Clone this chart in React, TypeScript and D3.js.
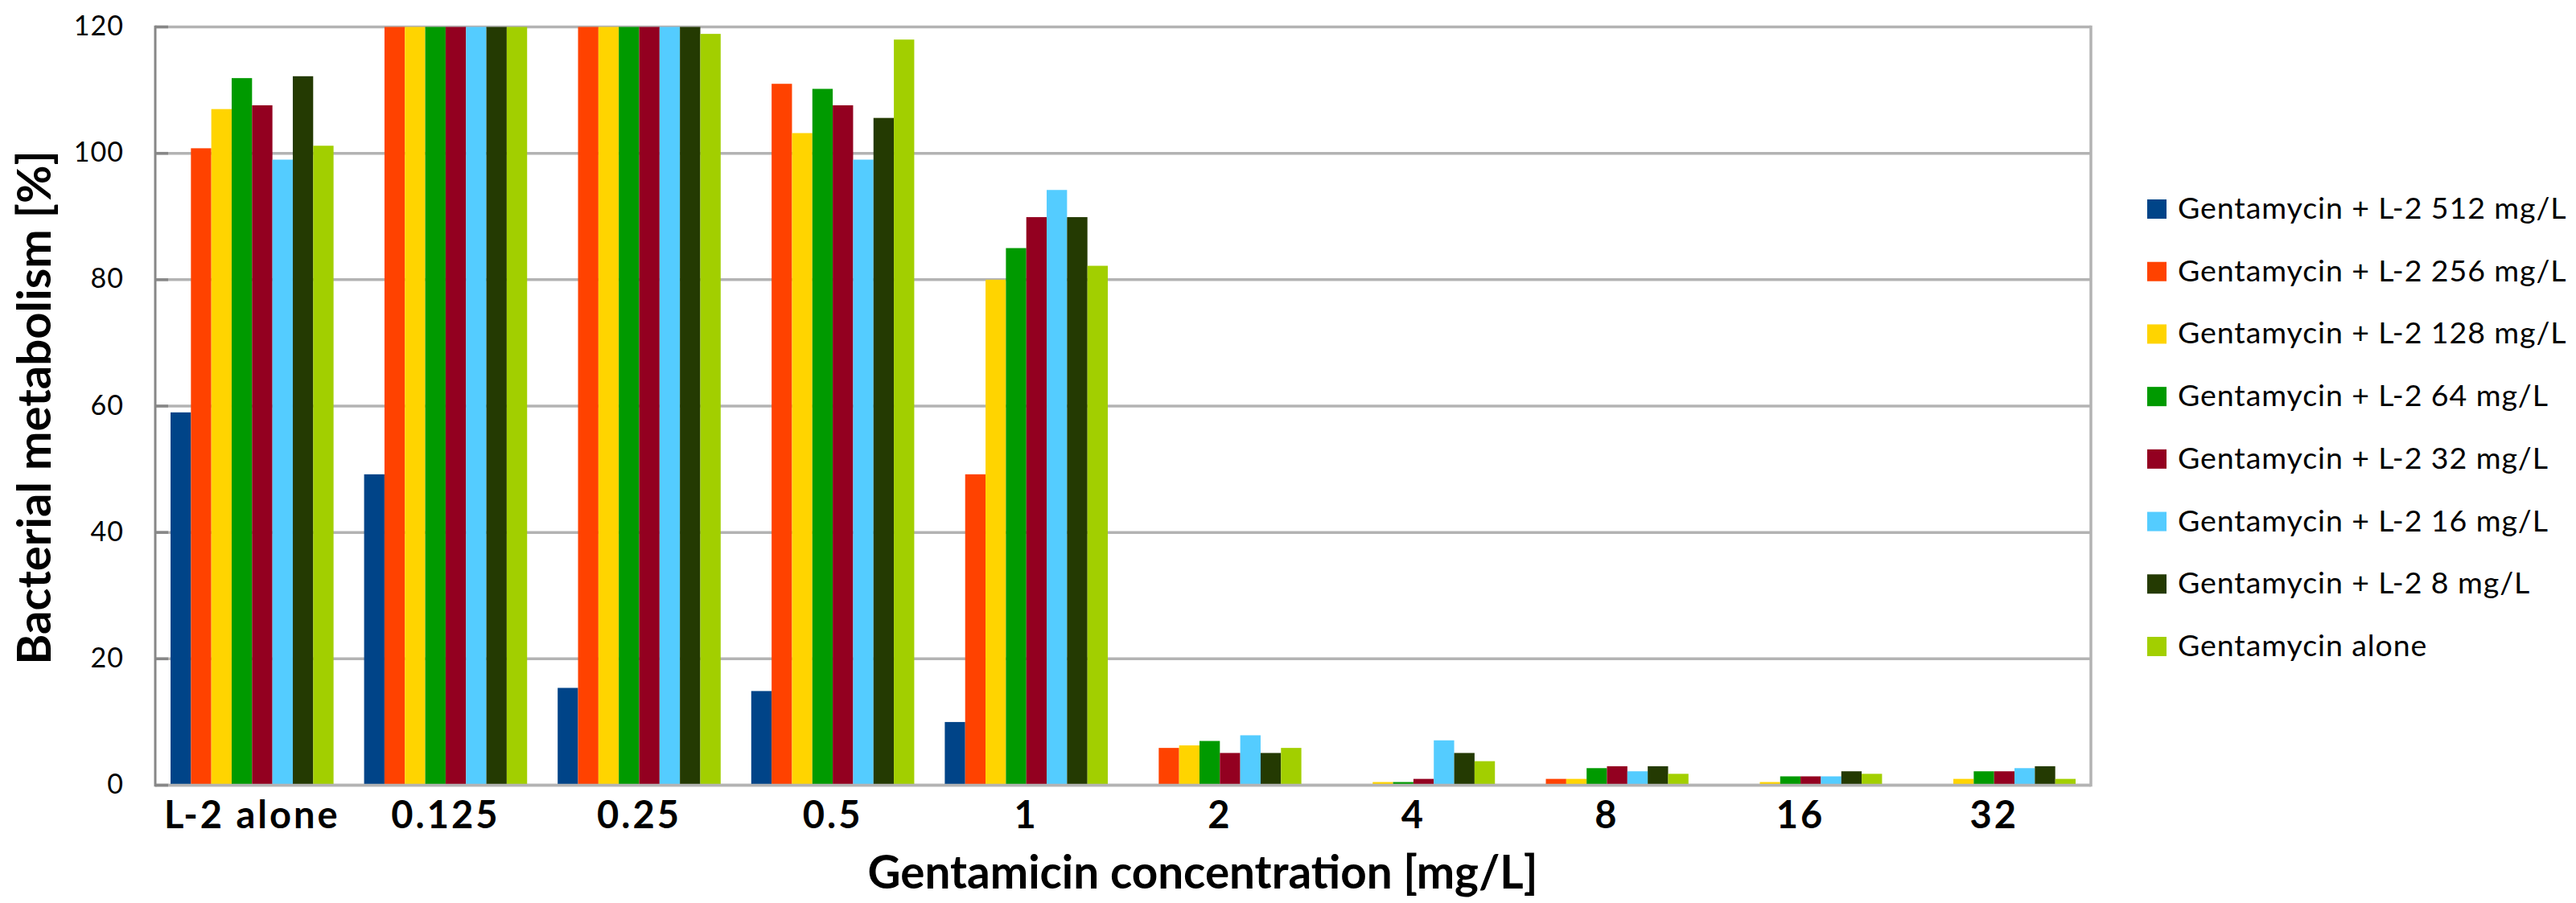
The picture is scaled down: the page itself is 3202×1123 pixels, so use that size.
import * as d3 from "d3";

const categories = ["L-2 alone", "0.125", "0.25", "0.5", "1", "2", "4", "8", "16", "32"];

const seriesNames = [
  "Gentamycin + L-2 512 mg/L",
  "Gentamycin + L-2 256 mg/L",
  "Gentamycin + L-2 128 mg/L",
  "Gentamycin + L-2 64 mg/L",
  "Gentamycin + L-2 32 mg/L",
  "Gentamycin + L-2 16 mg/L",
  "Gentamycin + L-2 8 mg/L",
  "Gentamycin alone",
];

const seriesColors = ["#004488", "#ff4200", "#ffd400", "#009a00", "#930020", "#54ccff", "#243a02", "#a2cf00"];

// values; bars that run past the axis top are capped at 120
const l2_512 = [59.0, 49.2, 15.4, 14.9, 10.0, 0, 0, 0, 0, 0];
const l2_256 = [100.8, 120, 120, 111.0, 49.2, 5.9, 0, 1.0, 0, 0];
const l2_128 = [107.0, 120, 120, 103.2, 80.0, 6.3, 0.5, 1.0, 0.5, 1.0];
const l2_64 = [111.9, 120, 120, 110.2, 85.0, 7.0, 0.5, 2.7, 1.4, 2.2];
const l2_32 = [107.6, 120, 120, 107.6, 89.9, 5.1, 1.0, 3.0, 1.4, 2.2];
const l2_16 = [99.0, 120, 120, 99.0, 94.2, 7.9, 7.1, 2.2, 1.4, 2.7];
const l2_8 = [112.2, 120, 120, 105.6, 89.9, 5.1, 5.1, 3.0, 2.2, 3.0];
const gentaAlone = [101.2, 120, 118.9, 118.0, 82.2, 5.9, 3.8, 1.8, 1.8, 1.0];

const seriesValues = [l2_512, l2_256, l2_128, l2_64, l2_32, l2_16, l2_8, gentaAlone];

const yTicks = [0, 20, 40, 60, 80, 100, 120];

const W = 3202;
const H = 1123;
const plot = { left: 193, right: 2599, top: 33.5, bottom: 976.5 };

export default function App() {
  const x0 = d3
    .scaleBand<string>()
    .domain(categories)
    .range([plot.left, plot.right])
    .paddingInner(1.5 / 9.5)
    .paddingOuter(0.75 / 9.5);

  const x1 = d3
    .scaleBand<number>()
    .domain(d3.range(seriesNames.length))
    .range([0, x0.bandwidth()]);

  const y = d3.scaleLinear().domain([0, 120]).range([plot.bottom, plot.top]);

  const legendY = d3
    .scalePoint<number>()
    .domain(d3.range(seriesNames.length))
    .range([260, 804]);

  const font = "Lato, 'Open Sans', sans-serif";

  return (
    <svg
      width={W}
      height={H}
      style={{ position: "absolute", left: 0, top: 0, display: "block", background: "#fff" }}
    >
      {/* gridlines */}
      {yTicks.map((t) => (
        <line
          key={"g" + t}
          x1={plot.left}
          x2={plot.right}
          y1={y(t)}
          y2={y(t)}
          stroke="#b3b3b3"
          strokeWidth={3.5}
        />
      ))}
      <line x1={plot.right} x2={plot.right} y1={plot.top - 1.75} y2={plot.bottom + 1.75} stroke="#b3b3b3" strokeWidth={3.5} />

      {/* bars */}
      {categories.map((c, ci) => (
        <g key={c} transform={`translate(${x0(c)},0)`}>
          {seriesValues.map((vals, si) =>
            vals[ci] > 0 ? (
              <rect
                key={si}
                x={x1(si)}
                y={y(vals[ci])}
                width={x1.bandwidth()}
                height={y(0) - y(vals[ci])}
                fill={seriesColors[si]}
              />
            ) : null
          )}
        </g>
      ))}

      {/* baseline and y axis */}
      <line x1={plot.left} x2={plot.right} y1={y(0)} y2={y(0)} stroke="#b3b3b3" strokeWidth={3.5} />
      {yTicks.map((t) => (
        <line key={"t" + t} x1={plot.left} x2={plot.left + 16} y1={y(t)} y2={y(t)} stroke="#878787" strokeWidth={3.5} />
      ))}
      <line x1={plot.left} x2={plot.left} y1={plot.top - 1.75} y2={plot.bottom + 1.75} stroke="#878787" strokeWidth={3} />

      {yTicks.map((t) => (
        <text
          key={"l" + t}
          x={154}
          y={y(t) + 2}
          textAnchor="end"
          dominantBaseline="middle"
          fontFamily={font}
          fontSize={34}
          letterSpacing={1}
          fill="#000"
        >
          {t}
        </text>
      ))}

      {categories.map((c) => (
        <text
          key={"c" + c}
          x={(x0(c) ?? 0) + x0.bandwidth() / 2}
          y={1029.5}
          textAnchor="middle"
          fontFamily={font}
          fontWeight="bold"
          fontSize={47}
          letterSpacing={3}
          fill="#000"
        >
          {c}
        </text>
      ))}

      <text
        x={1495}
        y={1105}
        textAnchor="middle"
        fontFamily={font}
        fontWeight="bold"
        fontSize={56.6}
        fill="#000"
      >
        Gentamicin concentration [mg/L]
      </text>

      <text
        transform={`translate(63,507) rotate(-90)`}
        textAnchor="middle"
        fontFamily={font}
        fontWeight="bold"
        fontSize={58}
        fill="#000"
      >
        Bacterial metabolism [%]
      </text>

      {/* legend */}
      {seriesNames.map((name, i) => (
        <g key={name} transform={`translate(2669,${legendY(i)})`}>
          <rect x={0} y={-12} width={24} height={24} fill={seriesColors[i]} />
          <text
            x={38}
            y={2.5}
            dominantBaseline="middle"
            fontFamily={font}
            fontSize={37.5}
            letterSpacing={0.9}
            fill="#000"
          >
            {name}
          </text>
        </g>
      ))}
    </svg>
  );
}
